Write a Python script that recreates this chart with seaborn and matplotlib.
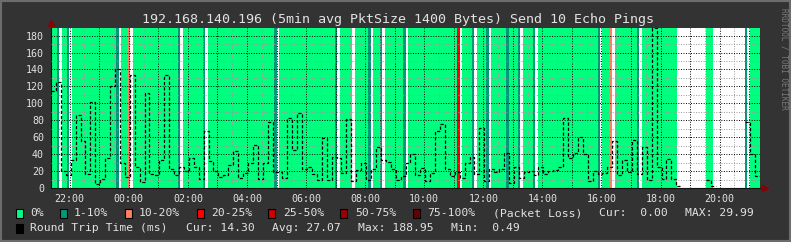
import numpy as np
import pandas as pd
import matplotlib
matplotlib.use("Agg")
import matplotlib.pyplot as plt
import seaborn as sns
from matplotlib.patches import Rectangle

# ---------------- data ----------------
title = "192.168.140.196 (5min avg PktSize 1400 Bytes) Send 10 Echo Pings"
start_clock_min = 21 * 60 + 22      # graph starts 21:22
span_min = 1440
rtt_step_min = 10
rtt_ms = [
    115, 125, 20, 15, 33, 86, 55, 17, 102, 5,
    11, 35, 120, 141, 30, 13, 134, 25, 7, 112,
    17, 15, 33, 134, 22, 15, 25, 20, 36, 25,
    11, 67, 32, 20, 13, 15, 27, 44, 12, 18,
    29, 51, 11, 30, 78, 19, 19, 12, 83, 45,
    88, 23, 25, 16, 10, 59, 10, 37, 35, 18,
    81, 8, 21, 29, 9, 23, 48, 33, 31, 22,
    9, 14, 30, 40, 15, 24, 8, 18, 67, 75,
    22, 14, 19, 12, 30, 37, 17, 71, 8, 22,
    19, 22, 41, 6, 25, 12, 19, 20, 15, 25,
    17, 20, 21, 25, 83, 35, 41, 60, 40, 8,
    20, 17, 18, 25, 55, 15, 33, 19, 57, 17,
    49, 9, 188.95, 25, 11, 34, 11, 2, None, None,
    None, None, None, 9, 2, None, None, None, None, None,
    None, 78, 40, 14,
]
loss_step_min = 5
loss_1_10_min = [12, 32, 133, 258, 308, 453, 576, 644, 668, 715, 855, 884,
                 925, 948, 979, 1110, 1190, 1409]
loss_10_20_min = [156, 1135]
loss_20_25_min = [825]
unknown_min = [17, 37, 138, 161, 263, 313, 458, 581, 612, 649, 673, 720, 830,
               860, 889, 953, 984, 1115, 1140, 1195, 1414]
no_data_min = [(1272, 1330), (1345, 1409)]

loss_labels = ["0%", "1-10%", "10-20%", "20-25%", "25-50%", "50-75%", "75-100%"]
loss_colors = ["#00ff7f", "#009977", "#ff7f5f", "#ff0000", "#cc0000", "#990000", "#660000"]
y_max = 188.95
rtt_cur, rtt_avg, rtt_max, rtt_min = 14.30, 27.07, 188.95, 0.49
loss_cur, loss_max = 0.00, 29.99

# ---------------- style ----------------
W, H = 791, 242
BG = "#333333"
FG = "#e2e2e2"
plt.rcParams["font.family"] = ["DejaVu Sans Mono", "DejaVu Sans"]

fig = plt.figure(figsize=(W / 100, H / 100), dpi=100, facecolor=BG)
ax = fig.add_axes([51 / W, 1 - 188 / H, 709 / W, 160 / H])
ax.set_facecolor("white")

# loss background bands
green_segs = []
cur = 0
for a, b in no_data_min:
    green_segs.append((cur, a))
    cur = b
green_segs.append((cur, span_min))
ax.bar([a for a, b in green_segs], y_max, width=[b - a for a, b in green_segs],
       align="edge", color=loss_colors[0], linewidth=0, zorder=1, antialiased=False)
for lst, col in [(loss_1_10_min, loss_colors[1]), (loss_10_20_min, loss_colors[2]),
                 (loss_20_25_min, loss_colors[3]), (unknown_min, "white")]:
    ax.bar(lst, y_max, width=loss_step_min, align="edge", color=col, linewidth=0,
           zorder=1.2, antialiased=False)

# RTT step line
rows = []
seg = 0
last = None
for i, v in enumerate(rtt_ms):
    t = i * rtt_step_min
    if v is None:
        if last is not None:
            rows.append((t, last, seg))
            seg += 1
        last = None
        continue
    rows.append((t, v, seg))
    last = v
if last is not None:
    rows.append((len(rtt_ms) * rtt_step_min, last, seg))
df = pd.DataFrame(rows, columns=["t", "rtt", "seg"])
sns.lineplot(data=df, x="t", y="rtt", units="seg", estimator=None,
             drawstyle="steps-post", color="black", lw=0.9,
             linestyle=(0, (2.6, 1.6)), ax=ax, legend=False, zorder=4)

# axes, grid
ax.set_xlim(0, span_min)
ax.set_ylim(0, y_max)
hours = [h for h in range(21, 47) if 0 <= h * 60 - start_clock_min <= span_min]
ax.set_xticks([h * 60 - start_clock_min for h in hours])
ax.set_xticklabels([f"{h % 24:02d}:00" if h % 2 == 0 else "" for h in hours])
halfs = [h * 60 + 30 - start_clock_min for h in range(21, 46)]
ax.set_xticks([m for m in halfs if 0 <= m <= span_min], minor=True)
ax.set_yticks(range(0, 181, 20))
ax.set_yticks(range(10, 181, 20), minor=True)
ax.set_axisbelow(False)
ax.grid(which="major", color="black", linestyle=(0, (1, 1.6)), lw=0.7, zorder=2.5)
ax.grid(which="minor", color="#9a9a9a", linestyle=(0, (1, 1.6)), lw=0.7, zorder=2.4)
ax.tick_params(which="both", length=0, colors=FG, labelsize=7.2)
ax.tick_params(axis="y", pad=5)
ax.tick_params(axis="x", pad=4)
ax.set_xlabel("")
ax.set_ylabel("")
for s in ["top", "right"]:
    ax.spines[s].set_visible(False)
for s in ["left", "bottom"]:
    ax.spines[s].set_color("#111111")
    ax.spines[s].set_linewidth(0.8)

# arrows
ax.plot([0], [1.03], marker="^", ms=4.5, color="#8b0000", transform=ax.transAxes, clip_on=False)
ax.plot([1.007], [0], marker=">", ms=4.5, color="#8b0000", transform=ax.transAxes, clip_on=False)

# title and watermark
fig.text(398 / W, 1 - 19 / H, title, color=FG, fontsize=9.6, ha="center", va="center")
fig.text(784 / W, 1 - 59 / H, "RRDTOOL / TOBI OETIKER", color="#7a7a7a", fontsize=5.6,
         rotation=270, ha="center", va="center")

# legend
def fx(x):
    return x / W

def fy(y):
    return 1 - y / H

row1, row2 = 213.5, 228
sq_x = [16, 60, 125, 197, 268, 340, 413]
txt_x = [30, 74, 139, 211, 283, 355, 427]
for lab, col, sx, tx in zip(loss_labels, loss_colors, sq_x, txt_x):
    fig.patches.append(Rectangle((fx(sx), fy(row1 + 4.5)), 7 / W, 9 / H, transform=fig.transFigure,
                                 facecolor=col, edgecolor="black", lw=0.8))
    fig.text(fx(tx), fy(row1), lab, color=FG, fontsize=8.2, va="center", ha="left")
fig.text(fx(493), fy(row1), "(Packet Loss)", color=FG, fontsize=8.2, va="center")
fig.text(fx(599), fy(row1), f"Cur:  {loss_cur:.2f}", color=FG, fontsize=8.2, va="center")
fig.text(fx(685), fy(row1), f"MAX: {loss_max:.2f}", color=FG, fontsize=8.2, va="center")

fig.patches.append(Rectangle((fx(16), fy(row2 + 4.5)), 7 / W, 9 / H, transform=fig.transFigure,
                             facecolor="black", edgecolor="black", lw=0.8))
fig.text(fx(30), fy(row2), "Round Trip Time (ms)", color=FG, fontsize=8.2, va="center")
fig.text(fx(186), fy(row2), f"Cur: {rtt_cur:.2f}", color=FG, fontsize=8.2, va="center")
fig.text(fx(272), fy(row2), f"Avg: {rtt_avg:.2f}", color=FG, fontsize=8.2, va="center")
fig.text(fx(358), fy(row2), f"Max: {rtt_max:.2f}", color=FG, fontsize=8.2, va="center")
fig.text(fx(451), fy(row2), f"Min:  {rtt_min:.2f}", color=FG, fontsize=8.2, va="center")

# frame
fig.patches.append(Rectangle((0, 0), 1, 1, transform=fig.transFigure, fill=False,
                             edgecolor="#6c6c6c", lw=3))

fig.savefig("out.png", dpi=100, facecolor=BG)
